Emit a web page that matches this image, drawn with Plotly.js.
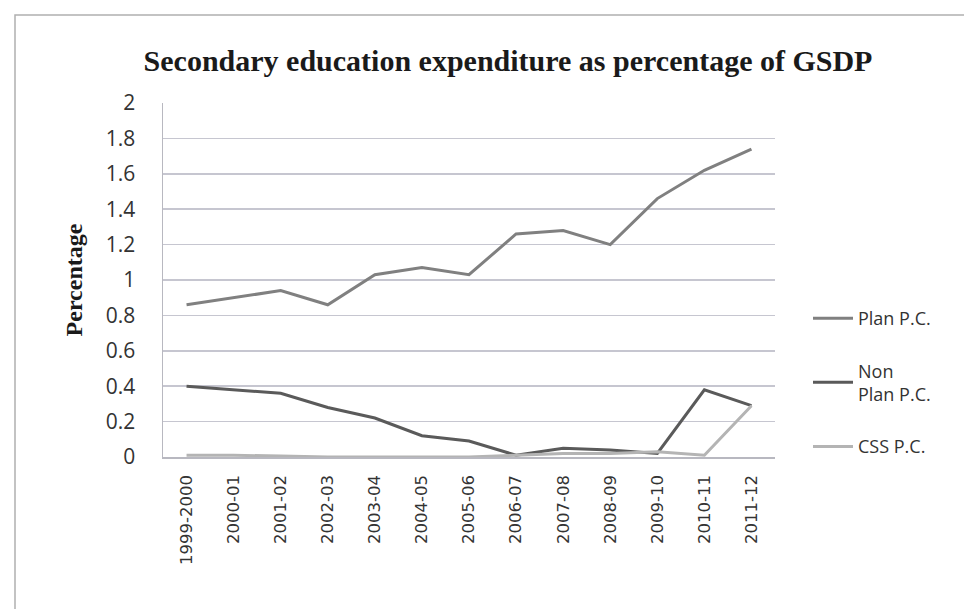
<!DOCTYPE html>
<html><head><meta charset="utf-8">
<script src="https://cdn.plot.ly/plotly-3.0.1.min.js"></script>
<style>html,body{margin:0;padding:0;background:#fff;}#chart{width:964px;height:609px;}</style>
</head><body><div id="chart"></div>
<script>
const years = ["1999-2000","2000-01","2001-02","2002-03","2003-04","2004-05","2005-06","2006-07","2007-08","2008-09","2009-10","2010-11","2011-12"];
const planPC = [0.86,0.90,0.94,0.86,1.03,1.07,1.03,1.26,1.28,1.20,1.46,1.62,1.74];
const nonPlanPC = [0.40,0.38,0.36,0.28,0.22,0.12,0.09,0.01,0.05,0.04,0.02,0.38,0.29];
const cssPC = [0.01,0.01,0.005,0,0,0,0,0.01,0.02,0.02,0.03,0.01,0.29];
const yTicks = [0,0.2,0.4,0.6,0.8,1,1.2,1.4,1.6,1.8,2];
const yTickText = ["0","0.2","0.4","0.6","0.8","1","1.2","1.4","1.6","1.8","2"];

const traces = [
  {x: years, y: planPC, name: "Plan P.C.", legendgroup: "a", type: "scatter", mode: "lines", line: {color: "#808080", width: 3}},
  {x: years, y: nonPlanPC, name: "Non<br>Plan P.C.", legendgroup: "b", type: "scatter", mode: "lines", line: {color: "#5a5a5a", width: 3}},
  {x: years, y: cssPC, name: "CSS P.C.", legendgroup: "c", type: "scatter", mode: "lines", line: {color: "#b4b4b4", width: 3}}
];

const L = 163, R = 775, T = 103, B = 457;
const W = 964, H = 609;
function px(x){return (x - L)/(R - L);}
function py(y){return (B - y)/(B - T);}

const layout = {
  width: W, height: H,
  margin: {l: L, r: W - R, t: T, b: H - B, pad: 0},
  paper_bgcolor: "#ffffff", plot_bgcolor: "#ffffff",
  showlegend: true,
  title: {text: "<b>Secondary education expenditure as percentage of GSDP</b>", font: {family: "Liberation Serif", size: 30, color: "#1a1a1a"}, x: 0.527, xanchor: "center", y: 1 - 60/609, yanchor: "middle", xref: "container", yref: "container"},
  xaxis: {
    type: "category", range: [-0.5, 12.5], tickangle: -90, tickfont: {family: "DejaVu Sans", size: 16.5, color: "#333"},
    showgrid: false, showline: true, linecolor: "#b8b8c0", linewidth: 1.5,
    ticks: "outside", ticklen: 10, tickcolor: "rgba(0,0,0,0)", zeroline: false, fixedrange: true
  },
  yaxis: {
    range: [0, 2], tickvals: yTicks, ticktext: yTickText,
    tickfont: {family: "Open Sans", size: 21, color: "#333"},
    showgrid: true, gridcolor: "#c6c6d0", gridwidth: 1.5,
    showline: true, linecolor: "#b8b8c0", linewidth: 1.5,
    ticks: "outside", ticklen: 22, tickcolor: "rgba(0,0,0,0)", zeroline: false,
    title: {text: "<b>Percentage</b>", font: {family: "Liberation Serif", size: 24, color: "#1a1a1a"}, standoff: 16},
    fixedrange: true
  },
  legend: {
    x: px(808), y: py(300), xanchor: "left", yanchor: "top",
    font: {family: "Open Sans", size: 18, color: "#333"},
    tracegroupgap: 26, itemwidth: 40, bgcolor: "rgba(0,0,0,0)"
  },
  shapes: [
    {type: "rect", xref: "paper", yref: "paper", x0: px(15), x1: px(990), y0: py(640), y1: py(15), line: {color: "#b0b0b0", width: 1.5}, fillcolor: "rgba(0,0,0,0)", layer: "below"}
  ]
};

Plotly.newPlot("chart", traces, layout, {displayModeBar: false, staticPlot: true});
</script>
</body></html>
